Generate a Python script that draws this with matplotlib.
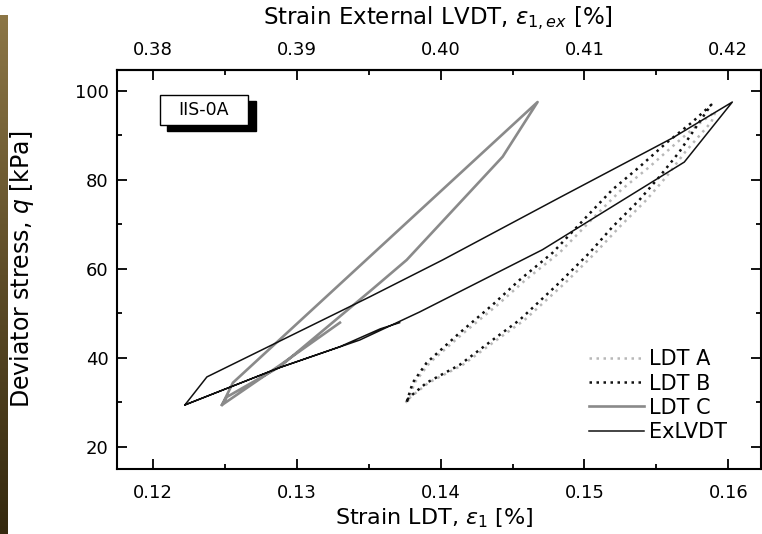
import matplotlib
matplotlib.use("Agg")
import matplotlib.pyplot as plt
import matplotlib.ticker as ticker
from matplotlib.patches import Rectangle
import numpy as np

plt.rcParams["font.family"] = ["DejaVu Sans"]
plt.rcParams["mathtext.fontset"] = "dejavusans"

# strain offset between LDT axis (bottom) and external LVDT axis (top)
EX_OFFSET = 0.26

# LDT A (light grey dotted)
LDT_A_STRAIN = [0.13771, 0.13819, 0.13924, 0.14160, 0.14396, 0.14590, 0.14826, 0.15069, 0.15257,
                0.15451, 0.15639, 0.15799, 0.15910, 0.15882, 0.15701, 0.15569, 0.15431, 0.15243,
                0.15076, 0.14868, 0.14583, 0.14389, 0.14153, 0.13917, 0.13792, 0.13757]
LDT_A_Q = [30.1, 34.4, 38.9, 45.6, 51.9, 57.5, 63.6, 71.7, 77.8,
           82.9, 88.3, 92.7, 95.3, 93.0, 86.3, 80.7, 75.5, 69.4,
           63.6, 56.9, 48.5, 44.0, 38.4, 34.4, 31.2, 29.9]

# LDT B (black dotted)
LDT_B_STRAIN = [0.13764, 0.13806, 0.13903, 0.14132, 0.14361, 0.14549, 0.14778, 0.15014, 0.15194,
                0.15382, 0.15569, 0.15750, 0.15882, 0.15847, 0.15660, 0.15521, 0.15382, 0.15194,
                0.15035, 0.14826, 0.14549, 0.14361, 0.14132, 0.13903, 0.13785, 0.13750]
LDT_B_Q = [30.1, 34.4, 38.9, 45.6, 51.9, 57.5, 63.6, 71.7, 77.8,
           82.9, 88.3, 93.0, 96.9, 95.3, 86.3, 80.7, 75.5, 69.4,
           63.6, 56.9, 48.5, 44.0, 38.4, 34.4, 31.2, 29.9]

# LDT C (grey solid, thick)
LDT_C_STRAIN = [0.1330, 0.1289, 0.1248, 0.12556, 0.14674, 0.14431, 0.13764, 0.13521, 0.12882, 0.12514, 0.12479]
LDT_C_Q = [47.9, 38.5, 29.4, 34.4, 97.5, 85.2, 62.0, 55.3, 38.0, 31.2, 29.4]

# External LVDT, plotted on the LDT strain axis
EXLVDT_STRAIN = [0.13715, 0.1358, 0.1330, 0.1288, 0.12222, 0.12375, 0.13507, 0.14014, 0.14826, 0.15611,
                 0.16028, 0.15694, 0.14708, 0.13854, 0.13438, 0.12882, 0.12222]
EXLVDT_Q = [47.9, 46.5, 42.5, 37.8, 29.4, 35.7, 53.7, 62.0, 76.0, 89.4,
            97.5, 84.0, 64.3, 50.3, 44.0, 37.8, 29.4]

X_TICKS = [0.12, 0.13, 0.14, 0.15, 0.16]
X_TICKS_TOP = [0.38, 0.39, 0.40, 0.41, 0.42]
Y_TICKS = [20, 40, 60, 80, 100]


def style_ticks(axis_obj, pad: float) -> None:
    axis_obj.tick_params(which="major", direction="in", length=7, width=1.3, labelsize=13, pad=pad)
    axis_obj.tick_params(which="minor", direction="in", length=3.6, width=1.3)


def main() -> None:
    fig = plt.figure(figsize=(7.62, 5.34), dpi=100)

    # brown strip on the left edge of the page
    strip = fig.add_axes([0, 0, 8 / 762, 1 - 15 / 534])
    grad = np.linspace(0, 1, 256).reshape(-1, 1)
    strip.imshow(grad, aspect="auto", cmap=matplotlib.colors.LinearSegmentedColormap.from_list(
        "strip", ["#8c7646", "#5e4d28", "#35290f"]))
    strip.set_axis_off()

    ax = fig.add_axes([117 / 762, 1 - 469 / 534, 645 / 762 - 0.0008, 399 / 534])

    ax.plot(LDT_A_STRAIN, LDT_A_Q, color="#b8b8b8", lw=1.8, ls=(0, (1, 1.8)), label="LDT A")
    ax.plot(LDT_B_STRAIN, LDT_B_Q, color="#111111", lw=1.8, ls=(0, (1, 1.8)), label="LDT B")
    ax.plot(LDT_C_STRAIN, LDT_C_Q, color="#8a8a8a", lw=1.9, label="LDT C")
    ax.plot(EXLVDT_STRAIN, EXLVDT_Q, color="#111111", lw=1.1, label="ExLVDT")

    ax.set_xlim(0.1175, 0.1623)
    ax.set_ylim(15.0, 104.7)
    ax.set_xticks(X_TICKS)
    ax.set_yticks(Y_TICKS)
    ax.xaxis.set_major_formatter(ticker.FormatStrFormatter("%.2f"))
    ax.xaxis.set_minor_locator(ticker.MultipleLocator(0.005))
    ax.yaxis.set_minor_locator(ticker.MultipleLocator(10))
    ax.tick_params(axis="both", which="both", right=True)
    style_ticks(ax, 6)
    ax.tick_params(axis="x", which="major", pad=11)
    for spine in ax.spines.values():
        spine.set_linewidth(1.5)

    top = ax.secondary_xaxis("top", functions=(lambda x: x + EX_OFFSET, lambda x: x - EX_OFFSET))
    top.set_xticks(X_TICKS_TOP)
    top.xaxis.set_major_formatter(ticker.FormatStrFormatter("%.2f"))
    top.xaxis.set_minor_locator(ticker.MultipleLocator(0.005))
    style_ticks(top, 8)
    top.spines["top"].set_linewidth(1.5)
    fig.text(438 / 762, 1 - 18 / 534, r"Strain External LVDT, $\varepsilon_{1,ex}$ [%]",
             fontsize=16.5, ha="center", va="center")

    ax.set_xlabel(r"Strain LDT, $\varepsilon_1$ [%]", fontsize=16)
    ax.xaxis.set_label_coords(0.493, -0.123)
    ax.xaxis.label.set_va("center")
    ax.set_ylabel(r"Deviator stress, $q$ [kPa]", fontsize=17)
    ax.yaxis.set_label_coords(-0.147, 0.50)
    ax.yaxis.label.set_va("center")

    # sample label box with drop shadow
    ax.add_patch(Rectangle((0.078, 0.847), 0.137, 0.076, transform=ax.transAxes,
                           facecolor="black", edgecolor="black", zorder=5))
    ax.add_patch(Rectangle((0.0667, 0.862), 0.137, 0.076, transform=ax.transAxes,
                           facecolor="white", edgecolor="black", lw=1.0, zorder=6))
    ax.text(0.135, 0.900, "IIS-0A", transform=ax.transAxes, ha="center", va="center",
            fontsize=12.5, zorder=7)

    ax.legend(loc="lower right", bbox_to_anchor=(0.947, 0.068), frameon=False, fontsize=15,
              handlelength=2.65, handletextpad=0.25, labelspacing=0.2, borderaxespad=0,
              borderpad=0)

    fig.savefig("out.png", dpi=100)
    plt.close(fig)


if __name__ == "__main__":
    main()
